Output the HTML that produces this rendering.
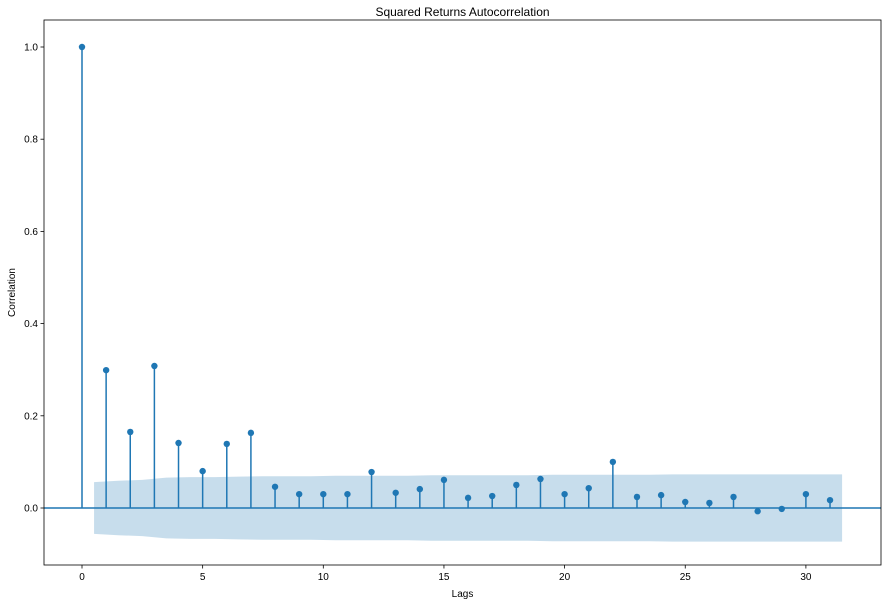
<!DOCTYPE html>
<html><head><meta charset="utf-8"><style>
body{margin:0;background:#fff;font-family:"Liberation Sans","DejaVu Sans",sans-serif;}
svg text{font-family:"Liberation Sans","DejaVu Sans",sans-serif;font-size:10px;fill:#000}
</style></head><body>
<svg id="c" width="888" height="604"></svg>
<script>
const lags=[0,1,2,3,4,5,6,7,8,9,10,11,12,13,14,15,16,17,18,19,20,21,22,23,24,25,26,27,28,29,30,31];
const acfValues=[1.0,0.299,0.165,0.308,0.141,0.080,0.139,0.163,0.046,0.030,0.030,0.030,0.078,0.033,0.041,0.061,0.022,0.026,0.050,0.063,0.030,0.043,0.100,0.024,0.028,0.013,0.011,0.024,-0.007,-0.002,0.030,0.017];
const bandValues=[0.056,0.059,0.061,0.066,0.067,0.067,0.068,0.069,0.069,0.069,0.070,0.070,0.070,0.070,0.071,0.071,0.071,0.071,0.071,0.072,0.072,0.072,0.072,0.072,0.073,0.073,0.073,0.073,0.073,0.073,0.073];
const xTicks=[0,5,10,15,20,25,30];
const yTicks=[0.0,0.2,0.4,0.6,0.8,1.0];
const NS="http://www.w3.org/2000/svg";
const svg=document.getElementById('c');
const L=44,R=881,T=20,B=565;
const xs=v=>82+v*24.13;
const ys=v=>508-v*461;
function mk(t,a,p){const e=document.createElementNS(NS,t);for(const k in a)e.setAttribute(k,a[k]);(p||svg).appendChild(e);return e;}
// band
let d='';
for(let i=0;i<bandValues.length;i++){const x=xs(lags[i+1]-0.5+ (i==0?0:0));d+=(i?'L':'M')+xs(lags[i+1]-0.5)+','+ys(bandValues[i]);}
d+='L'+xs(31.5)+','+ys(bandValues[bandValues.length-1]);
d+='L'+xs(31.5)+','+ys(-bandValues[bandValues.length-1]);
for(let i=bandValues.length-1;i>=0;i--){d+='L'+xs(lags[i+1]-0.5)+','+ys(-bandValues[i]);}
d+='Z';
const band=mk('path',{d:d,fill:'#1f77b4','fill-opacity':0.25,stroke:'none'});


// zero line
const zl=mk('line',{x1:L,x2:R,y1:ys(0),y2:ys(0),stroke:'#1f77b4','stroke-width':1.5});


// stems & markers
lags.forEach((lg,i)=>{
 const s=mk('line',{x1:xs(lg),x2:xs(lg),y1:ys(0),y2:ys(acfValues[i]),stroke:'#1f77b4','stroke-width':1.5});
 
 
 const m=mk('circle',{cx:xs(lg),cy:ys(acfValues[i]),r:3.2,fill:'#1f77b4'});
 
 
});
// frame
const fr=mk('rect',{x:L,y:T,width:R-L,height:B-T,fill:'none',stroke:'#000','stroke-width':0.8});


xTicks.forEach(t=>{
 mk('line',{x1:xs(t),x2:xs(t),y1:B,y2:B+3.5,stroke:'#000','stroke-width':0.8});
 const tx=mk('text',{x:xs(t),y:B+15,'text-anchor':'middle'});tx.textContent=t;
 
 
});
yTicks.forEach(t=>{
 mk('line',{x1:L-3.5,x2:L,y1:ys(t),y2:ys(t),stroke:'#000','stroke-width':0.8});
 const tx=mk('text',{x:L-6,y:ys(t)+3.5,'text-anchor':'end'});tx.textContent=t.toFixed(1);
 
 
});
const ti=mk('text',{x:(L+R)/2,y:T-4,'text-anchor':'middle',style:'font-size:12px'});ti.textContent='Squared Returns Autocorrelation';


const xl=mk('text',{x:(L+R)/2,y:597,'text-anchor':'middle'});xl.textContent='Lags';


const yl=mk('text',{x:15,y:(T+B)/2,'text-anchor':'middle',transform:'rotate(-90 15 '+((T+B)/2)+')'});yl.textContent='Correlation';


</script>
</body></html>
